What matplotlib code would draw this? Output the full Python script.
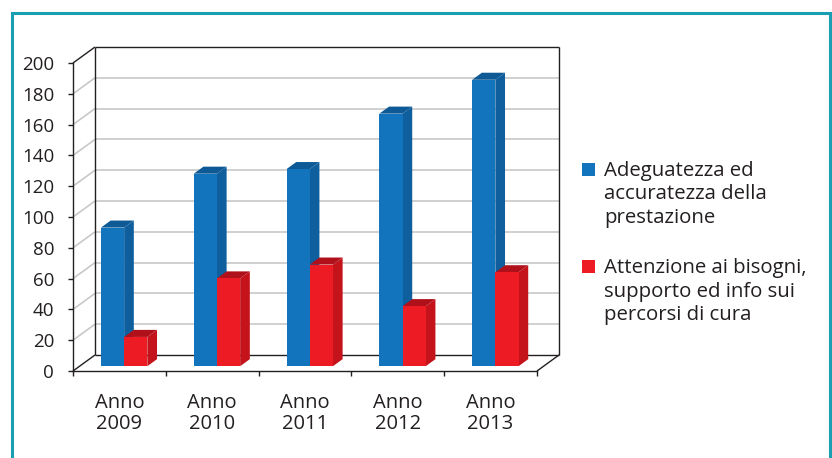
import matplotlib.pyplot as plt
from matplotlib.patches import Polygon, Rectangle

# ─── dati ─────────────────────────────────────────────────────────────────────
categories = ["Anno\n2009", "Anno\n2010", "Anno\n2011", "Anno\n2012", "Anno\n2013"]
adeguatezza = [90, 125, 128, 164, 186]
attenzione = [19, 57, 66, 39, 61]
series_labels = ["Adeguatezza ed\naccuratezza della\nprestazione",
                 "Attenzione ai bisogni,\nsupporto ed info sui\npercorsi di cura"]
y_ticks = list(range(0, 201, 20))

# front, side, top
BLUE = ("#1174BD", "#0F5F9E", "#0D5A97")
RED = ("#ED1C24", "#C4131B", "#AF1019")
DARK = "#231F20"
GRID = "#C8C8C8"
TEAL = "#1A9FB2"

plt.rcParams["font.family"] = ["Open Sans", "DejaVu Sans"]

W, H = 832, 458
fig = plt.figure(figsize=(W / 100, H / 100), dpi=100)
ax = fig.add_axes([73 / W, (H - 371) / H, 464 / W, 308 / H])
n = len(categories)
ax.set_xlim(0, n)
ax.set_ylim(0, 200)

# spostamento della parete di fondo (pixel -> unità dati)
DX = 22 * n / 464
DY = 16 * 200 / 308


def at(x, y, f):
    return (x + f * DX, y + f * DY)


def line(p, q, color, lw, z=1):
    ax.plot([p[0], q[0]], [p[1], q[1]], color=color, lw=lw, zorder=z,
            clip_on=False, solid_capstyle="butt")


# griglia: parete di fondo e parete sinistra
for t in y_ticks:
    col, lw = (DARK, 1.0) if t in (0, 200) else (GRID, 1.2)
    line(at(0, t, 1), at(n, t, 1), col, lw)
    line(at(0, t, 0), at(0, t, 1), col, lw)

line(at(0, 0, 1), at(0, 200, 1), DARK, 1.0)
line(at(n, 0, 1), at(n, 200, 1), DARK, 1.0)
line(at(n, 0, 0), at(n, 0, 1), DARK, 1.0)

# colonne 3D
F0, F1 = 0.3, 0.74
bw = 0.25
for i in range(n):
    for s, (vals, cols) in enumerate([(adeguatezza, BLUE), (attenzione, RED)]):
        v = vals[i]
        x0 = i + 0.23 + s * bw
        x1 = x0 + bw
        front = [at(x0, 0, F0), at(x1, 0, F0), at(x1, v, F0), at(x0, v, F0)]
        side = [at(x1, 0, F0), at(x1, 0, F1), at(x1, v, F1), at(x1, v, F0)]
        top = [at(x0, v, F0), at(x1, v, F0), at(x1, v, F1), at(x0, v, F1)]
        for pts, c in [(side, cols[1]), (top, cols[2]), (front, cols[0])]:
            ax.add_patch(Polygon(pts, closed=True, facecolor=c, edgecolor="none",
                                 zorder=3, clip_on=False))

# assi
for sp in ("top", "right"):
    ax.spines[sp].set_visible(False)
for sp in ("left", "bottom"):
    ax.spines[sp].set_color(DARK)
    ax.spines[sp].set_linewidth(1.0)
ax.set_facecolor("none")
ax.set_yticks(y_ticks)
ax.set_yticklabels([str(t) for t in y_ticks])
ax.set_xticks(range(n + 1))
ax.set_xticklabels([])
ax.set_xticks([i + 0.5 for i in range(n)], minor=True)
ax.set_xticklabels(categories, minor=True, linespacing=1.12)
ax.tick_params(axis="y", direction="out", length=3.6, width=1.0, color=DARK,
               pad=10, labelsize=13.5, labelcolor=DARK)
ax.tick_params(axis="x", which="major", direction="out", length=3.6, width=1.0,
               color=DARK)
ax.tick_params(axis="x", which="minor", length=0, pad=15.5, labelsize=14.5,
               labelcolor=DARK)

# legenda (una riga alla volta, allineata sulla linea di base)
for k, (lab, cols) in enumerate(zip(series_labels, [BLUE, RED])):
    base = [176, 273][k]
    fig.add_artist(Rectangle((582 / W, 1 - base / H), 13 / W, 13 / H,
                             transform=fig.transFigure, facecolor=cols[0],
                             edgecolor="none"))
    for j, row in enumerate(lab.split("\n")):
        fig.text(604 / W, 1 - (base + j * 23.5) / H, row, fontsize=14.7,
                 color=DARK, va="baseline", ha="left")

# cornice
fig.add_artist(Rectangle((12 / W, -0.05), 818 / W, 1.05 - 12.5 / H,
                         transform=fig.transFigure, facecolor="none",
                         edgecolor=TEAL, lw=2.2))

fig.savefig("out.png", dpi=100)
